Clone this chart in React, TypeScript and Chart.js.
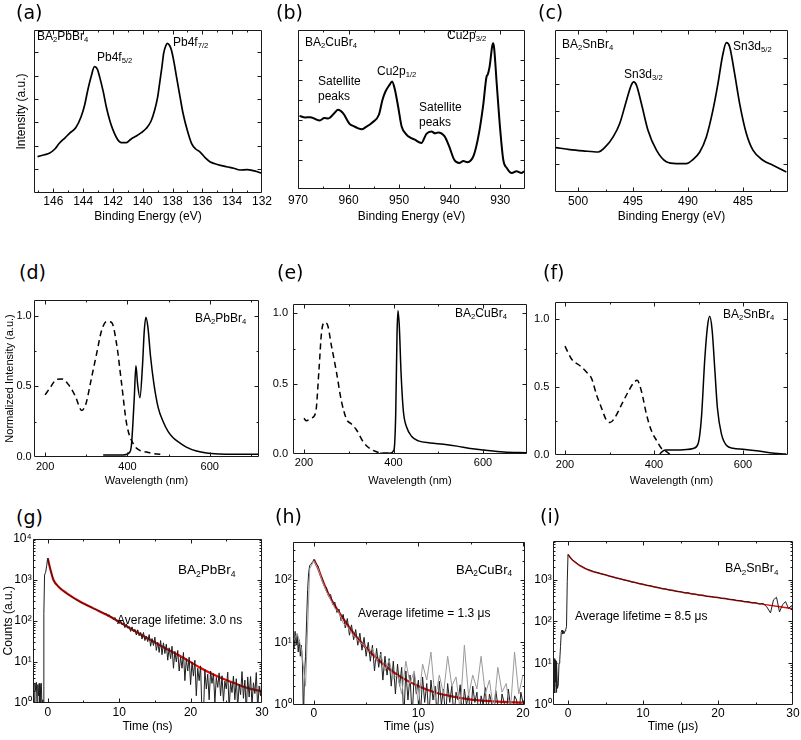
import React, { useEffect, useRef } from "react";
import { Chart, registerables } from "chart.js";
Chart.register(...registerables);

const SANS = '"Liberation Sans", Arial, Helvetica, sans-serif';
const PANEL_FONT = '"DejaVu Sans", Verdana, sans-serif';
const RED = "#f20000";
const PT = 8;
const PR = 14;

// ---------------- (a) XPS Pb4f ----------------
const aEnergy = [147.06,146.6,146.27,145.9,145.6,145.2,144.92,144.5,144.14,143.9,143.69,143.45,143.24,143.05,142.9,142.65,142.45,142.2,142.0,141.7,141.44,141.1,140.8,140.43,140.1,139.76,139.45,139.2,139.0,138.87,138.72,138.6,138.45,138.35,138.2,138.08,137.9,137.74,137.5,137.3,137.0,136.73,136.45,136.17,135.8,135.5,135.0,134.38,133.9,133.48,133.0,132.59,132.3,132.02];
const aIntensity = [22.3,23.5,24.4,27,30.5,34,36.6,40,46.8,54,63.2,72,77.5,76,71.4,62,52.9,44,38.7,33,30.9,30.9,33,35,37,39.7,44,50.9,59,67.3,77,85.7,90.5,91.8,90.5,87.7,80,71.4,59,48.9,38,30.5,27,25.3,21.5,19.2,17.5,16.1,15.2,14.1,14.3,13.7,13,12.1];
const aXTicks = [146,144,142,140,138,136,134,132];
const aXMinor = [147,145,143,141,139,137,135,133];
const aYMarks = [14.5,29,43.4,57.7,71.8,86.7];

// ---------------- (b) XPS Cu2p ----------------
const bEnergy = [969.7,968.6,967.6,966.6,965.7,964.8,964.0,962.7,962.1,961.1,959.8,959.0,958.2,957.4,956.6,955.3,954.0,953.3,952.7,951.9,951.4,950.9,950.2,949.5,948.5,947.7,946.9,945.6,944.6,943.6,942.9,942.3,941.0,940.1,939.1,938.1,937.3,936.5,935.2,934.2,933.4,932.7,932.5,932.1,931.6,931.4,931.2,930.7,930.0,929.4,928.7,927.7,926.8,925.8,925.3];
const bIntensity = [46,45,45.2,44,43.1,44.6,44.4,48.1,49.8,47.7,41,39.5,38.3,37.6,38.9,41.8,46.7,56,61.3,65.5,67.6,63.4,51.9,39.3,34.1,32.2,31,28.9,34.7,36.2,35,35.6,33.1,26.8,18.4,16.3,17.6,16.9,21.5,35.1,51.9,70.7,71.8,77,89.5,91.6,88.5,66.5,37.2,18.4,13.2,10,11.1,10,11.1];
const bXTicks = [970,960,950,940,930];
const bXMinor = [965,955,945,935];
const bYMarks = [18.4,31,43.5,56,68.6,81];

// ---------------- (c) XPS Sn3d ----------------
const cEnergy = [502.02,500.75,499.54,498.17,497.52,496.81,496.21,495.59,495.16,494.94,494.69,494.24,493.64,492.87,491.97,491.06,490.15,489.55,488.93,488.33,487.73,487.27,486.87,486.51,486.21,485.76,485.3,484.69,484.09,483.18,482.27,481.05];
const cIntensity = [27.4,26.2,25.4,24.7,27.8,34,42.3,56.7,66,68,66,54.6,38.1,25.8,18.6,17.5,17.5,20,24.7,34,50.5,67,83.5,92.2,89.7,73.2,54.6,36.1,25.8,19.6,16.5,12.4];
const cXTicks = [500,495,490,485];
const cXMinor = [497.5,492.5,487.5,482.5];
const cYMarks = [17.1,33.6,50.1,66.6,83];

// ---------------- (d) BA2PbBr4 PL / PLE ----------------
const dPLWavelength = [341,390,406,410,416.6,420.6,424.6,430.3,436.8,440.8,444.8,449.7,456.2,464.2,474.7,486.9,499,511,527,543,567.7,592,624,656.6,719];
const dPLIntensity = [0.014,0.014,0.035,0.094,0.42,0.647,0.52,0.42,0.66,0.89,0.99,0.92,0.71,0.52,0.35,0.25,0.18,0.136,0.1,0.07,0.042,0.028,0.021,0.019,0.019];
const dPLEWavelength = [200,212,228,240.4,256.6,272.7,289,299,313,325,337,349.5,361.6,373.7,385.9,398,414,430,446.5,462.6,486.9];
const dPLEIntensity = [0.44,0.49,0.55,0.553,0.513,0.435,0.33,0.376,0.565,0.73,0.894,0.96,0.953,0.8,0.518,0.235,0.094,0.047,0.035,0.024,0.019];

// ---------------- (e) BA2CuBr4 PL / PLE ----------------
const ePLEWavelength = [200,205,216,226,233.6,239,245,251.6,261.3,272.5,283.7,295,306,317.4,332.3,347.3,362,377,392];
const ePLEIntensity = [0.255,0.236,0.255,0.294,0.606,0.86,0.935,0.926,0.77,0.583,0.375,0.248,0.213,0.171,0.086,0.039,0.016,0.005,0.005];
const ePLWavelength = [369.7,392,401,404.9,407.9,410,413,416.8,422,429.5,440.7,455.7,481.9,511.8,541.7,571.6,601.5,646.4,697];
const ePLIntensity = [0.005,0.005,0.028,0.28,0.86,1.02,0.907,0.583,0.306,0.19,0.125,0.093,0.079,0.069,0.056,0.039,0.028,0.014,0.009];

// ---------------- (f) BA2SnBr4 PL / PLE ----------------
const fPLEWavelength = [200,215,233.6,248.6,259.8,271,282,292,301,312,327,342,353,362,372,383,394,405.6,416.8,428,435.5];
const fPLEIntensity = [0.798,0.702,0.655,0.607,0.56,0.44,0.345,0.262,0.238,0.274,0.369,0.464,0.524,0.548,0.464,0.298,0.179,0.107,0.048,0.024,0.007];
const fPLWavelength = [413,420.6,426.5,443,473,488,499,506.5,514,520,525,530.5,536.5,542.4,551.4,562.6,577.6,600,630,660,697];
const fPLIntensity = [0.007,0.031,0.036,0.036,0.04,0.048,0.083,0.274,0.702,0.94,1.017,0.917,0.631,0.345,0.155,0.071,0.05,0.043,0.031,0.017,0.007];

const plXTicks = [200,400,600];
const plXMinor = [300,500,700];
const plYTicks = [0,0.5,1];
const plYMinor = [0.25,0.75];

// ---------------- (g) BA2PbBr4 TRPL ----------------
const gCounts = [
  [-2.0,3.5],[-1.9,1],[-1.8,3],[-1.7,2],[-1.6,3.2],[-1.5,0.8],[-1.4,2.8],[-1.3,1.5],[-1.2,3],[-1.1,0.5],[-1.0,2.5],[-0.9,3],[-0.8,0.5],[-0.7,1.2],[-0.6,0.5],
  [-0.55,150],[-0.45,1300],[-0.3,1500],[-0.15,2200],[-0.05,3000],[0,3300],[0.25,2100],[0.5,1450],[0.75,1020],[1.0,850],[1.5,670],[2.0,560],[2.5,480],[3.0,420],[3.5,370],[4.0,325],[4.5,292],[5.0,262],[5.5,235],[6.0,218],
  [6.2,205],[6.4,198],[6.6,192],[6.8,186],[7.0,178],[7.2,172],[7.4,168],[7.6,158],[7.8,155],[8.0,146],
  [8.2,150],[8.4,130],[8.6,140],[8.8,122],[9.0,124],[9.2,106],[9.4,120],[9.6,98],[9.8,100],[10.0,86],
  [10.2,99],[10.4,80],[10.6,86],[10.8,68],[11.0,84],[11.2,66],[11.4,72],[11.6,55],[11.8,71],[12.0,54],
  [12.2,62],[12.4,45],[12.6,60],[12.8,43],[13.0,52],[13.2,36],[13.4,52],[13.6,33],[13.8,42],[14.0,31],
  [14.2,46],[14.4,24],[14.6,37],[14.8,25],[15.0,40],[15.2,19],[15.4,30],[15.6,17],[15.8,33],[16.0,15],
  [16.2,29],[16.4,16],[16.6,27],[16.8,11],[17.0,22],[17.2,12],[17.4,24],[17.6,7],[17.8,18],[18.0,10],
  [18.2,19],[18.4,6],[18.6,13],[18.8,7],[19.0,17],[19.2,3.5],[19.4,12],[19.6,6],[19.8,13],[20.0,2.8],
  [20.2,10],[20.4,4.5],[20.6,11],[20.8,1.5],[21.0,7],[21.2,3.5],[21.4,8],[21.6,0.5],[21.8,0.5],[22.0,6.5],
  [22.2,2.2],[22.4,5],[22.6,1.2],[22.8,6],[23.0,3],[23.2,5.2],[23.4,1],[23.6,4.2],[23.8,2.4],[24.0,5.4],
  [24.2,1.5],[24.4,4.6],[24.6,1.1],[24.8,3.4],[25.0,2.2],[25.2,5.6],[25.4,0.7],[25.6,3.2],[25.8,1.8],[26.0,4.5],
  [26.2,1.2],[26.4,3.9],[26.6,0.8],[26.8,2.9],[27.0,1.6],[27.2,5.8],[27.4,1.3],[27.6,3.6],[27.8,0.6],[28.0,4.3],
  [28.2,1.4],[28.4,4.4],[28.6,0.9],[28.8,3.1],[29.0,1.7],[29.2,5.5],[29.4,0.7],[29.6,2.6],[29.8,1.5],[30.0,4]
];
const gFitTime = [0,0.33,0.8,1.5,2.67,4.55,6.4,8.3,10.2,12.05,14.4,16.7,19.1,21.4,23.8,26.1,28,30];
const gFitCounts = [3300,1870,980,675,465,290,200,138,90,58,34,20.4,12.3,7.1,4.4,3.05,2.3,1.92];

// ---------------- (h) BA2CuBr4 TRPL ----------------
const hCounts = [
  [-2.0,12],[-1.9,8],[-1.8,15],[-1.7,9],[-1.6,13],[-1.5,7],[-1.4,11],[-1.3,6],[-1.2,9],[-1.1,5],[-1.0,0.6],[-0.9,3],[-0.8,6],[-0.7,22],[-0.6,70],[-0.5,130],[-0.4,170],[-0.3,175],[-0.2,185],[-0.1,195],[0.0,210],
  [0.2,180],[0.4,165],[0.6,120],[0.8,105],[1.0,80],[1.2,75],[1.4,55],[1.6,58],[1.8,40],[2.0,44],[2.2,30],[2.4,34],[2.6,22],[2.8,28],[3.0,17],[3.2,24],[3.4,13],[3.6,19],[3.8,11],[4.0,16],
  [4.2,9],[4.4,14],[4.6,7.5],[4.8,12],[5.0,6],[5.2,10],[5.4,5],[5.6,9],[5.8,3.5],[6.0,8],[6.2,4],[6.4,7],[6.6,2.5],[6.8,6],[7.0,3],[7.2,5.5],[7.4,2],[7.6,5],[7.8,1.5],[8.0,4.5],
  [8.2,2],[8.4,4],[8.6,0.6],[8.8,3.5],[9.0,1.2],[9.2,3],[9.4,0.6],[9.6,3.2],[9.8,1.5],[10.0,2.5],[10.2,0.7],[10.4,2.8],[10.6,1.1],[10.8,2.2],[11.0,0.6],[11.2,2.5],[11.4,1.2],[11.6,2],[11.8,0.6],[12.0,2.4],
  [12.2,1],[12.4,1.8],[12.6,0.6],[12.8,2.2],[13.0,1.1],[13.2,2],[13.4,0.6],[13.6,1.6],[13.8,1.2],[14.0,2.1],[14.2,0.6],[14.4,1.8],[14.6,1],[14.8,1.5],[15.0,0.6],[15.2,2],[15.4,1.1],[15.6,1.6],[15.8,0.6],[16.0,1.4],
  [16.2,1],[16.4,1.9],[16.6,0.6],[16.8,1.5],[17.0,1.1],[17.2,0.6],[17.4,1.7],[17.6,1],[17.8,0.6],[18.0,1.5],[18.2,1.1],[18.4,0.6],[18.6,1.8],[18.8,1],[19.0,0.6],[19.2,1.4],[19.4,1.2],[19.6,0.6],[19.8,1.6],[20.0,1.1]
];
const hCountsGrey = [
  [-2.0,10],[-1.6,14],[-1.2,8],[-0.8,2],[-0.4,150],[0.0,200],[0.4,150],[0.8,95],[1.2,65],[1.6,48],[2.0,35],[2.4,30],[2.8,20],[3.2,18],[3.6,14],[4.0,12],[4.4,10],[4.8,9],[5.2,7],[5.6,8],[6.0,5],[6.4,6.5],[6.8,3.5],[7.2,5.2],[7.6,2.6],[8.0,3],[8.4,1.5],[8.8,5],[9.2,2.2],[9.6,3.5],[10.0,1],[10.4,4.5],[10.8,2.5],[11.2,7],[11.6,1.2],[12.0,3],[12.4,1.5],[12.8,6],[13.2,2],[13.6,2.8],[14.0,0.8],[14.4,9],[14.8,1.4],[15.2,3],[15.6,1.8],[16.0,6],[16.4,1.5],[16.8,2.5],[17.2,0.8],[17.6,4],[18.0,1.6],[18.4,2.2],[18.8,0.8],[19.2,7],[19.6,1.5],[20.0,3]
];
const hFitTime = [0,0.41,0.89,1.53,2.17,3.12,4.08,5.35,6.94,8.54,10.13,11.7,13.3,14.9,16.5,18.1,20];
const hFitCounts = [210,150,92,53,35,20,12.2,7.05,4.07,2.66,1.96,1.57,1.36,1.23,1.16,1.12,1.09];

// ---------------- (i) BA2SnBr4 TRPL ----------------
const iCounts = [
  [-2.0,8],[-1.9,12],[-1.85,3],[-1.8,13],[-1.75,2],[-1.7,12],[-1.65,3.5],[-1.6,11],[-1.55,2],[-1.5,9],[-1.4,2.5],[-1.3,3],[-1.2,10],[-1.1,12],[-1.0,25],[-0.9,55],[-0.8,62],[-0.7,50],[-0.6,58],[-0.5,52],[-0.4,60],[-0.3,65],[-0.2,75],[-0.1,900],[0.0,4000],
  [0.5,3050],[1.0,2650],[1.5,2250],[2.0,2020],[2.5,1800],[3.0,1680],[3.5,1540],[4.0,1480],[4.5,1360],[5.0,1320],[5.5,1220],[6.0,1170],[6.5,1090],[7.0,1050],[7.5,980],[8.0,950],[8.5,880],[9.0,860],[9.5,800],[10.0,785],
  [10.5,730],[11.0,720],[11.5,670],[12.0,655],[12.5,610],[13.0,605],[13.5,565],[14.0,560],[14.5,525],[15.0,520],[15.5,485],[16.0,490],[16.5,455],[17.0,452],[17.5,425],[18.0,428],[18.5,398],[19.0,400],[19.5,378],[20.0,380],
  [20.5,355],[21.0,360],[21.5,335],[22.0,338],[22.5,316],[23.0,318],[23.5,298],[24.0,300],[24.5,280],[25.0,285],[25.5,262],[26.0,270],[26.5,225],[27.0,160],[27.4,330],[27.8,380],[28.2,170],[28.6,250],[29.0,300],[29.4,205],[29.8,240],[30.0,200]
];
const iFitTime = [0,0.67,1.56,2.9,4.68,6.9,9.6,12.7,15.8,19.4,22.5,26.1,30];
const iFitCounts = [4000,2880,2190,1670,1350,1050,800,605,480,385,320,257,203];

const trXTicks30 = [0,10,20,30];
const trXMinor30 = [5,15,25];
const trXTicks20 = [0,10,20];
const trXMinor20 = [5,15];
const logMinor = [2,3,4,5,6,7,8,9,20,30,40,50,60,70,80,90,200,300,400,500,600,700,800,900,2000,3000,4000,5000,6000,7000,8000,9000];

const SUP: Record<string, string> = { "0": "\u2070", "1": "\u00b9", "2": "\u00b2", "3": "\u00b3", "4": "\u2074" };

function pts(xs: number[], ys: number[]) {
  return xs.map((x, i) => ({ x, y: ys[i] }));
}
function tup(arr: number[][]) {
  return arr.map(([x, y]) => ({ x, y }));
}

const framePlugin = {
  id: "frame",
  afterDatasetsDraw(chart: any, _args: any, opts: any) {
    const { ctx, chartArea: a, scales } = chart;
    const xs = scales.x;
    const ys = scales.y;
    const l = Math.round(a.left) + 0.5;
    const r = Math.round(a.right) - 0.5;
    const t = Math.round(a.top) + 0.5;
    const b = Math.round(a.bottom) - 0.5;
    ctx.save();
    ctx.strokeStyle = "#1a1a1a";
    ctx.lineWidth = 1;
    ctx.beginPath();
    ctx.rect(l, t, r - l, b - t);
    const xMarks = (vals: number[], len: number) => {
      (vals || []).forEach((v) => {
        const p = Math.round(xs.getPixelForValue(v)) + 0.5;
        if (p < l - 0.5 || p > r + 0.5) return;
        ctx.moveTo(p, b);
        ctx.lineTo(p, b - len);
        ctx.moveTo(p, t);
        ctx.lineTo(p, t + len);
      });
    };
    const yMarks = (vals: number[], len: number) => {
      (vals || []).forEach((v) => {
        const p = Math.round(ys.getPixelForValue(v)) + 0.5;
        if (p < t - 0.5 || p > b + 0.5) return;
        ctx.moveTo(l, p);
        ctx.lineTo(l + len, p);
        ctx.moveTo(r, p);
        ctx.lineTo(r - len, p);
      });
    };
    xMarks(opts.xMajor, 4);
    xMarks(opts.xMinor, 2);
    yMarks(opts.yMajor, 4);
    yMarks(opts.yMinor, 2);
    ctx.stroke();
    ctx.restore();
  },
};

type Spec = {
  L: number; T: number; R: number; B: number;
  yw: number; xh: number; fs: number; xPad: number; yPad: number;
  xMin: number; xMax: number; reverse?: boolean;
  yLog?: boolean; yMin: number; yMax: number;
  xTicks: number[]; xMinor: number[];
  yTicks: number[]; yMinor: number[]; yLabels: boolean;
  xTitle: string; yTitle?: string;
  yFormat?: (v: number) => string;
  datasets: any[];
};

function line(data: any[], color: string, width: number, extra: any = {}) {
  return {
    data,
    borderColor: color,
    borderWidth: width,
    pointRadius: 0,
    fill: false,
    tension: 0,
    ...extra,
  };
}

const smooth = { cubicInterpolationMode: "monotone" };
const dashed = { cubicInterpolationMode: "monotone", borderDash: [6, 4] };

const logLabel = (v: number) => "10" + (SUP[String(Math.round(Math.log10(v)))] || "");
const fixed1 = (v: number) => v.toFixed(1);

const specs: Spec[] = [
  {
    L: 34, T: 30, R: 262, B: 193, yw: 20, xh: 31, fs: 12, xPad: 1.5, yPad: 2,
    xMin: 132, xMax: 147.3, reverse: true, yMin: 0, yMax: 100,
    xTicks: aXTicks, xMinor: aXMinor, yTicks: aYMarks, yMinor: [], yLabels: false,
    xTitle: "Binding Energy (eV)", yTitle: "Intensity (a.u.)",
    datasets: [line(pts(aEnergy, aIntensity), "#000", 1.7, smooth)],
  },
  {
    L: 294, T: 30, R: 525, B: 189, yw: 10, xh: 35, fs: 12, xPad: 4, yPad: 2,
    xMin: 925.1, xMax: 970, reverse: true, yMin: 0, yMax: 100,
    xTicks: bXTicks, xMinor: bXMinor, yTicks: bYMarks, yMinor: [], yLabels: false,
    xTitle: "Binding Energy (eV)",
    datasets: [line(pts(bEnergy, bIntensity), "#000", 2, smooth)],
  },
  {
    L: 555, T: 30, R: 788, B: 192, yw: 10, xh: 32, fs: 12, xPad: 2.5, yPad: 2,
    xMin: 480.9, xMax: 502.1, reverse: true, yMin: 0, yMax: 100,
    xTicks: cXTicks, xMinor: cXMinor, yTicks: cYMarks, yMinor: [], yLabels: false,
    xTitle: "Binding Energy (eV)",
    datasets: [line(pts(cEnergy, cIntensity), "#000", 1.7, smooth)],
  },
  {
    L: 34, T: 299, R: 259, B: 457, yw: 31, xh: 31, fs: 11, xPad: 3, yPad: 2.3,
    xMin: 173, xMax: 719.6, yMin: 0, yMax: 1.113,
    xTicks: plXTicks, xMinor: plXMinor, yTicks: plYTicks, yMinor: plYMinor, yLabels: true, yFormat: fixed1,
    xTitle: "Wavelength (nm)", yTitle: "Normalized Intensity (a.u.)",
    datasets: [
      line(pts(dPLEWavelength, dPLEIntensity), "#000", 1.5, dashed),
      line(pts(dPLWavelength, dPLIntensity), "#000", 1.5, smooth),
    ],
  },
  {
    L: 293, T: 300, R: 527, B: 454, yw: 25, xh: 34, fs: 11, xPad: 2.7, yPad: 5,
    xMin: 175.4, xMax: 698.3, yMin: 0, yMax: 1.07,
    xTicks: plXTicks, xMinor: plXMinor, yTicks: plYTicks, yMinor: plYMinor, yLabels: true, yFormat: fixed1,
    xTitle: "Wavelength (nm)",
    datasets: [
      line(pts(ePLEWavelength, ePLEIntensity), "#000", 1.5, dashed),
      line(pts(ePLWavelength, ePLIntensity), "#000", 1.5, smooth),
    ],
  },
  {
    L: 555, T: 298, R: 788, B: 455, yw: 27, xh: 33, fs: 11, xPad: 3.4, yPad: 5.7,
    xMin: 177.5, xMax: 701, yMin: 0, yMax: 1.12,
    xTicks: plXTicks, xMinor: plXMinor, yTicks: plYTicks, yMinor: plYMinor, yLabels: true, yFormat: fixed1,
    xTitle: "Wavelength (nm)",
    datasets: [
      line(pts(fPLEWavelength, fPLEIntensity), "#000", 1.5, dashed),
      line(pts(fPLWavelength, fPLIntensity), "#000", 1.5, smooth),
    ],
  },
  {
    L: 33, T: 538, R: 262, B: 703, yw: 32, xh: 31, fs: 12, xPad: 2.8, yPad: 1.3,
    xMin: -2.07, xMax: 30, yLog: true, yMin: 1, yMax: 10000,
    xTicks: trXTicks30, xMinor: trXMinor30, yTicks: [1, 10, 100, 1000, 10000], yMinor: logMinor, yLabels: true, yFormat: logLabel,
    xTitle: "Time (ns)", yTitle: "Counts (a.u.)",
    datasets: [
      line(tup(gCounts), "#1e1e1e", 1),
      line(pts(gFitTime, gFitCounts), RED, 2.2, smooth),
    ],
  },
  {
    L: 293, T: 541, R: 525, B: 705, yw: 26, xh: 29, fs: 12, xPad: 1, yPad: 1.3,
    xMin: -2, xMax: 20.2, yLog: true, yMin: 1, yMax: 407,
    xTicks: trXTicks20, xMinor: trXMinor20, yTicks: [1, 10, 100], yMinor: logMinor, yLabels: true, yFormat: logLabel,
    xTitle: "Time (\u03bcs)",
    datasets: [
      line(tup(hCountsGrey), "#9a9a9a", 1),
      line(tup(hCounts), "#1e1e1e", 1),
      line(pts(hFitTime, hFitCounts), RED, 2.2, smooth),
    ],
  },
  {
    L: 553, T: 540, R: 793, B: 705, yw: 26, xh: 29, fs: 12, xPad: 1, yPad: 1.3,
    xMin: -2, xMax: 30, yLog: true, yMin: 1, yMax: 8700,
    xTicks: trXTicks30, xMinor: trXMinor30, yTicks: [1, 10, 100, 1000], yMinor: logMinor, yLabels: true, yFormat: logLabel,
    xTitle: "Time (\u03bcs)",
    datasets: [
      line(tup(iCounts), "#1e1e1e", 1),
      line(pts(iFitTime, iFitCounts), RED, 1.5, smooth),
    ],
  },
];

function buildConfig(p: Spec) {
  const font = { family: SANS, size: p.fs };
  return {
    type: "line",
    data: { datasets: p.datasets },
    options: {
      animation: false,
      responsive: false,
      devicePixelRatio: 1,
      events: [],
      layout: { padding: { left: 0, top: PT, right: PR, bottom: 0 }, autoPadding: false },
      plugins: {
        legend: { display: false },
        tooltip: { enabled: false },
        frame: { xMajor: p.xTicks, xMinor: p.xMinor, yMajor: p.yTicks, yMinor: p.yMinor },
      },
      scales: {
        x: {
          type: "linear",
          min: p.xMin,
          max: p.xMax,
          reverse: !!p.reverse,
          grid: { display: false, drawTicks: false },
          border: { display: false },
          ticks: {
            autoSkip: false,
            maxRotation: 0,
            minRotation: 0,
            padding: p.xPad,
            color: "#000",
            font,
            callback: (v: number) => String(v),
          },
          afterBuildTicks: (s: any) => {
            s.ticks = p.xTicks.map((v) => ({ value: v }));
          },
          afterFit: (s: any) => {
            s.height = p.xh;
          },
          title: { display: true, text: p.xTitle, color: "#000", font, padding: 0 },
        },
        y: {
          type: p.yLog ? "logarithmic" : "linear",
          min: p.yMin,
          max: p.yMax,
          grid: { display: false, drawTicks: false },
          border: { display: false },
          ticks: {
            display: p.yLabels,
            autoSkip: false,
            padding: p.yPad,
            color: "#000",
            font,
            callback: (v: number) => (p.yFormat ? p.yFormat(v) : String(v)),
          },
          afterBuildTicks: (s: any) => {
            s.ticks = p.yTicks.map((v) => ({ value: v }));
          },
          afterFit: (s: any) => {
            s.width = p.yw;
          },
          title: { display: !!p.yTitle, text: p.yTitle || "", color: "#000", font, padding: 0 },
        },
      },
    },
    plugins: [framePlugin],
  };
}

function PanelChart({ spec }: { spec: Spec }) {
  const ref = useRef<HTMLCanvasElement>(null);
  const w = spec.yw + (spec.R - spec.L) + PR;
  const h = PT + (spec.B - spec.T) + spec.xh;
  useEffect(() => {
    if (!ref.current) return;
    const chart = new Chart(ref.current, buildConfig(spec) as any);
    return () => chart.destroy();
  }, [spec]);
  return (
    <canvas
      ref={ref}
      width={w}
      height={h}
      style={{ position: "absolute", left: spec.L - spec.yw, top: spec.T - PT, width: w, height: h }}
    />
  );
}

const Sub = ({ children }: { children: React.ReactNode }) => (
  <span style={{ fontSize: "0.64em", position: "relative", top: "0.32em" }}>{children}</span>
);

function Txt({ x, y, size = 12, children, family = SANS }: { x: number; y: number; size?: number; children: React.ReactNode; family?: string }) {
  const lh = Math.round(size * 1.3);
  return (
    <div
      style={{
        position: "absolute",
        left: x,
        top: y - lh / 2,
        height: lh,
        lineHeight: lh + "px",
        fontSize: size,
        fontFamily: family,
        color: "#000",
        whiteSpace: "nowrap",
      }}
    >
      {children}
    </div>
  );
}

const panelLabels = [
  { t: "(a)", x: 16, y: 12 },
  { t: "(b)", x: 276, y: 12 },
  { t: "(c)", x: 538, y: 12 },
  { t: "(d)", x: 19, y: 272 },
  { t: "(e)", x: 277, y: 272 },
  { t: "(f)", x: 543, y: 272 },
  { t: "(g)", x: 16, y: 517 },
  { t: "(h)", x: 275, y: 516 },
  { t: "(i)", x: 540, y: 516 },
];

export default function App() {
  return (
    <div
      style={{
        position: "absolute",
        left: 0,
        top: 0,
        width: 801,
        height: 740,
        overflow: "hidden",
        background: "#fff",
      }}
    >
      {specs.map((s, i) => (
        <PanelChart key={i} spec={s} />
      ))}
      {panelLabels.map((p) => (
        <Txt key={p.t} x={p.x} y={p.y} size={19} family={PANEL_FONT}>
          {p.t}
        </Txt>
      ))}

      <Txt x={37} y={36}>BA<Sub>2</Sub>PbBr<Sub>4</Sub></Txt>
      <Txt x={97} y={57}>Pb4f<Sub>5/2</Sub></Txt>
      <Txt x={173} y={42}>Pb4f<Sub>7/2</Sub></Txt>

      <Txt x={305} y={42}>BA<Sub>2</Sub>CuBr<Sub>4</Sub></Txt>
      <Txt x={318} y={81}>Satellite</Txt>
      <Txt x={318} y={96}>peaks</Txt>
      <Txt x={377} y={71}>Cu2p<Sub>1/2</Sub></Txt>
      <Txt x={419} y={107}>Satellite</Txt>
      <Txt x={419} y={122}>peaks</Txt>
      <Txt x={447} y={35}>Cu2p<Sub>3/2</Sub></Txt>

      <Txt x={562} y={44}>BA<Sub>2</Sub>SnBr<Sub>4</Sub></Txt>
      <Txt x={624} y={74}>Sn3d<Sub>3/2</Sub></Txt>
      <Txt x={733} y={46}>Sn3d<Sub>5/2</Sub></Txt>

      <Txt x={195} y={318}>BA<Sub>2</Sub>PbBr<Sub>4</Sub></Txt>
      <Txt x={455} y={313}>BA<Sub>2</Sub>CuBr<Sub>4</Sub></Txt>
      <Txt x={723} y={314}>BA<Sub>2</Sub>SnBr<Sub>4</Sub></Txt>

      <Txt x={178} y={570} size={13.5}>BA<Sub>2</Sub>PbBr<Sub>4</Sub></Txt>
      <Txt x={117} y={620}>Average lifetime: 3.0 ns</Txt>
      <Txt x={456} y={569} size={13}>BA<Sub>2</Sub>CuBr<Sub>4</Sub></Txt>
      <Txt x={358} y={613}>Average lifetime = 1.3 {"\u03bc"}s</Txt>
      <Txt x={725} y={568} size={12.5}>BA<Sub>2</Sub>SnBr<Sub>4</Sub></Txt>
      <Txt x={575} y={616}>Average lifetime = 8.5 {"\u03bc"}s</Txt>
    </div>
  );
}
